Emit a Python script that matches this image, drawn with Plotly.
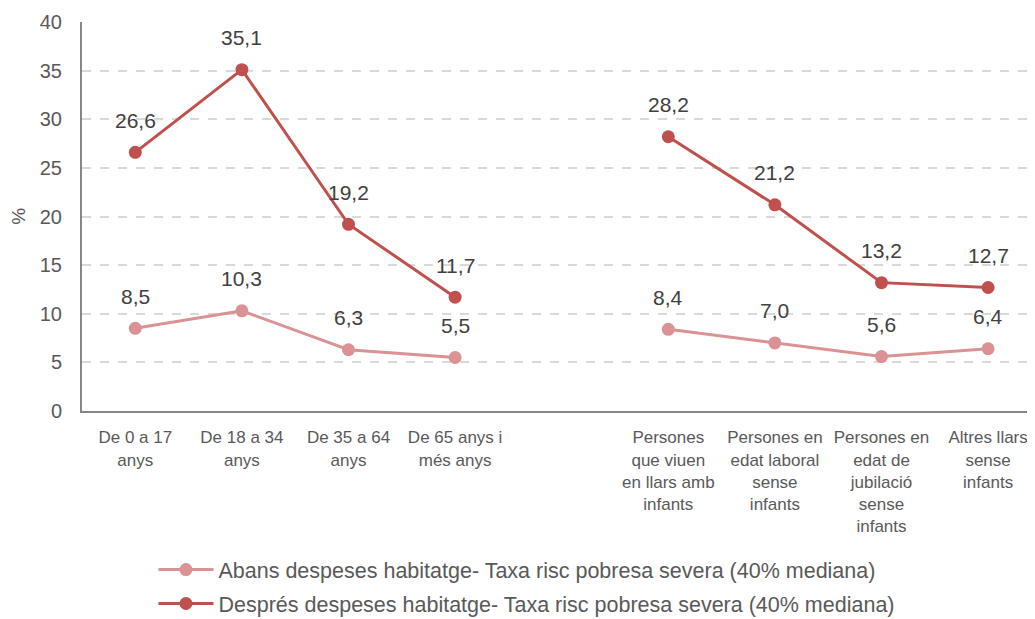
import plotly.graph_objects as go

categories = [
    "De 0 a 17<br>anys",
    "De 18 a 34<br>anys",
    "De 35 a 64<br>anys",
    "De 65 anys i<br>més anys",
    " ",
    "Persones<br>que viuen<br>en llars amb<br>infants",
    "Persones en<br>edat laboral<br>sense<br>infants",
    "Persones en<br>edat de<br>jubilació<br>sense<br>infants",
    "Altres llars<br>sense<br>infants",
]
abans = [8.5, 10.3, 6.3, 5.5, None, 8.4, 7.0, 5.6, 6.4]
despres = [26.6, 35.1, 19.2, 11.7, None, 28.2, 21.2, 13.2, 12.7]
series_names = [
    "Abans despeses habitatge- Taxa risc pobresa severa (40% mediana)",
    "Després despeses habitatge- Taxa risc pobresa severa (40% mediana)",
]
colors = ["#DA9294", "#C0504D"]
FONT = "Liberation Sans, Arial"

fig = go.Figure()
for i, (name, vals, col) in enumerate(zip(series_names, [abans, despres], colors)):
    fig.add_trace(go.Scatter(
        x=categories, y=vals, name=name, mode="lines+markers",
        line=dict(color=col, width=3), marker=dict(color=col, size=13),
        connectgaps=False, hoverinfo="skip", legendgroup=f"g{i}",
    ))
    for c, v in zip(categories, vals):
        if v is None:
            continue
        fig.add_annotation(
            x=c, y=v, text=f"{v:.1f}".replace(".", ","), showarrow=False,
            yanchor="middle", yshift=32,
            font=dict(family=FONT, size=21, color="#404040"),
        )

fig.add_annotation(
    xref="paper", yref="paper", x=-0.08, y=0.5, text="%", textangle=-90,
    showarrow=False, font=dict(family=FONT, size=19, color="#595959"),
)

fig.update_layout(
    width=1027, height=660,
    margin=dict(l=74, r=0, t=14, b=257),
    paper_bgcolor="white", plot_bgcolor="white",
    font=dict(family=FONT, color="#595959"),
    showlegend=True,
    legend=dict(
        orientation="v", x=0.075, y=-0.355, xanchor="left", yanchor="top",
        font=dict(size=21.5, color="#595959"), tracegroupgap=3,
        traceorder="grouped", itemwidth=55,
    ),
)
fig.update_xaxes(
    type="category", range=[-0.5, 8.44], automargin=False,
    showline=True, linecolor="#868686", linewidth=2,
    showgrid=False, ticks="outside", ticklen=10, tickcolor="white",
    tickfont=dict(size=17, color="#595959"),
    tickangle=0,
)
fig.update_yaxes(
    range=[0, 40], dtick=5, showline=True, linecolor="#868686", linewidth=2,
    automargin=False, ticks="outside", ticklen=14, tickcolor="white",
    showgrid=True, gridcolor="#D9D9D9", griddash="dash", gridwidth=1.5,
    zeroline=False, tickfont=dict(size=20, color="#595959"),
)
fig.write_html("out.html")
